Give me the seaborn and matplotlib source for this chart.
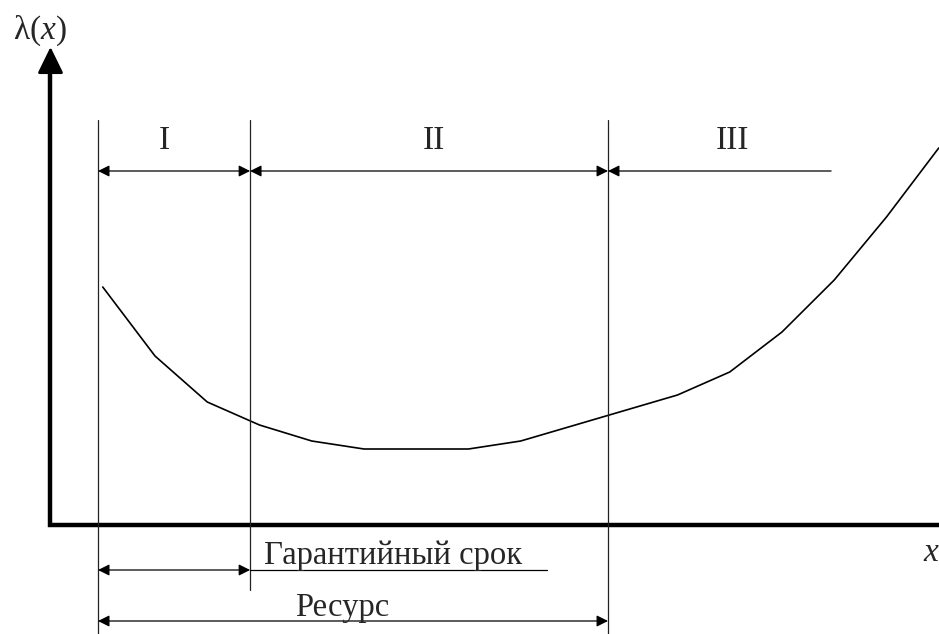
#!/usr/bin/env python3
# bathtub curve: failure rate over time, with the three periods marked

import pandas as pd
import matplotlib
matplotlib.use('Agg')
import matplotlib.pyplot as plt
import seaborn as sns

# Data =========================================================================

t_points = [1, 2, 3, 4, 5, 6, 8, 9, 12, 13, 14, 15, 16, 17]
lambda_points = [23.8, 16.9, 12.3, 10.0, 8.4, 7.6, 7.6, 8.4, 13.0, 15.3,
                 19.3, 24.5, 30.8, 37.7]

period_labels = ['I', 'II', 'III']
period_bounds = [0.91, 3.82, 10.67, 14.94]   # I | II | III (III open ended)
warranty_end = 9.50
warranty_label = 'Гарантийный срок'
resource_label = 'Ресурс'


def dim_arrow(ax, x0, x1, y, style='<|-|>'):
    ax.annotate('', xy=(x1, y), xytext=(x0, y),
                arrowprops=dict(arrowstyle=style, color='black', lw=0.9,
                                mutation_scale=17, shrinkA=0, shrinkB=0))


def main():
    sns.set_theme(style='white')
    plt.rcParams['font.family'] = ['Liberation Serif', 'DejaVu Serif']
    plt.rcParams['mathtext.fontset'] = 'custom'
    plt.rcParams['mathtext.rm'] = 'Liberation Serif'
    plt.rcParams['mathtext.it'] = 'Liberation Serif:italic'

    fig = plt.figure(figsize=(9.39, 6.34), dpi=100)
    ax = fig.add_axes([0, 0, 1, 1])
    ax.set_xlim(-0.9665, 17.005)
    ax.set_ylim(-10.9, 52.5)
    ax.axis('off')

    curve = pd.DataFrame({'t': t_points, 'lam': lambda_points})
    sns.lineplot(data=curve, x='t', y='lam', color='black', lw=1.2,
                 ax=ax, legend=False)

    # axes with arrows
    ax.plot([0, 0, 17.0], [46.0, 0, 0], color='black', lw=3.2,
            solid_joinstyle='miter', solid_capstyle='butt')
    for tip, tail in (((0, 47.8), (0, 40.0)), ((17.2, 0), (16.0, 0))):
        ax.annotate('', xy=tip, xytext=tail,
                    arrowprops=dict(arrowstyle='-|>,head_length=0.45,head_width=0.22',
                                    color='black', lw=2, mutation_scale=36,
                                    shrinkA=0, shrinkB=0))
    ax.text(-0.2, 49.4, r'λ($x$)', fontsize=24, ha='center', va='center')
    ax.text(16.86, -2.8, r'$x$', fontsize=24, ha='center', va='center')

    # period boundaries
    b = period_bounds
    ax.plot([b[0], b[0]], [40.5, -10.9], color='#222222', lw=0.9)
    ax.plot([b[1], b[1]], [40.5, -6.5], color='#222222', lw=0.9)
    ax.plot([b[2], b[2]], [40.5, -10.9], color='#222222', lw=0.9)

    row = 35.4
    dim_arrow(ax, b[0], b[1], row)
    dim_arrow(ax, b[1], b[2], row)
    dim_arrow(ax, b[3], b[2], row, style='-|>')
    label_x = [(b[0] + b[1]) / 2 - 0.19, (b[1] + b[2]) / 2 + 0.1, 13.05]
    for lab, lx in zip(period_labels, label_x):
        ax.text(lx, 38.4, lab, fontsize=24, ha='center', va='center')

    # warranty and resource
    dim_arrow(ax, b[0], b[1], -4.5)
    ax.plot([b[1], warranty_end], [-4.5, -4.5], color='black', lw=0.9)
    ax.text(6.55, -3.1, warranty_label, fontsize=23.5, ha='center', va='center')
    dim_arrow(ax, b[0], b[2], -9.6, style='<|-|>')
    ax.text(5.58, -8.3, resource_label, fontsize=23.5, ha='center', va='center')

    fig.savefig('out.png', dpi=100)


if __name__ == '__main__':
    main()
